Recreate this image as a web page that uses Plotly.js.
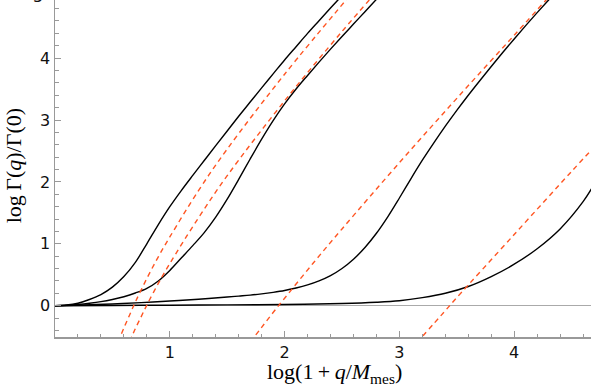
<!DOCTYPE html>
<html>
<head>
<meta charset="utf-8">
<script src="https://cdn.plot.ly/plotly-3.0.1.min.js"></script>
<style>html,body{margin:0;padding:0;background:#fff;}#chart{width:591px;height:389px;}</style>
</head>
<body>
<div id="chart"></div>
<script>
// Black solid curves: log Γ(q)/Γ(0) vs log(1+q/M_mes)
const curveA_x = [0, 0.1, 0.2, 0.3, 0.4, 0.5, 0.6, 0.7, 0.8, 0.9, 1.0, 1.1, 1.2, 1.3, 1.4, 1.5, 1.6, 1.7, 1.8, 1.9, 2.0, 2.1, 2.2, 2.3, 2.4, 2.5, 2.6];
const curveA_y = [0, 0.01, 0.04, 0.1, 0.18, 0.3, 0.47, 0.7, 1.0, 1.31, 1.6, 1.86, 2.105, 2.345, 2.585, 2.823, 3.06, 3.29, 3.52, 3.745, 3.97, 4.185, 4.4, 4.605, 4.81, 5.01, 5.21];
const curveB_x = [0, 0.1, 0.2, 0.3, 0.4, 0.5, 0.6, 0.7, 0.8, 0.9, 1.0, 1.1, 1.2, 1.3, 1.4, 1.5, 1.6, 1.7, 1.8, 1.9, 2.0, 2.1, 2.2, 2.3, 2.4, 2.5, 2.6, 2.7, 2.8, 2.9];
const curveB_y = [0, 0.005, 0.02, 0.04, 0.065, 0.1, 0.145, 0.205, 0.28, 0.4, 0.57, 0.77, 0.97, 1.18, 1.43, 1.72, 2.04, 2.37, 2.69, 2.99, 3.26, 3.5, 3.72, 3.935, 4.145, 4.35, 4.55, 4.75, 4.95, 5.15];
const curveC_x = [0, 0.25, 0.5, 0.75, 1.0, 1.25, 1.5, 1.6, 1.7, 1.8, 1.9, 2.0, 2.1, 2.2, 2.3, 2.4, 2.5, 2.6, 2.7, 2.8, 2.9, 3.0, 3.1, 3.2, 3.3, 3.4, 3.5, 3.6, 3.7, 3.8, 3.9, 4.0, 4.1, 4.2, 4.3, 4.4];
const curveC_y = [0, 0.012, 0.028, 0.05, 0.075, 0.105, 0.14, 0.155, 0.17, 0.19, 0.215, 0.245, 0.285, 0.335, 0.4, 0.485, 0.6, 0.75, 0.94, 1.17, 1.44, 1.74, 2.05, 2.35, 2.63, 2.9, 3.155, 3.4, 3.635, 3.865, 4.09, 4.31, 4.525, 4.735, 4.94, 5.14];
const curveD_x = [0, 0.5, 1.0, 1.5, 2.0, 2.5, 2.8, 3.0, 3.2, 3.4, 3.6, 3.8, 4.0, 4.2, 4.4, 4.6, 4.7];
const curveD_y = [0, 0.004, 0.008, 0.013, 0.02, 0.035, 0.055, 0.08, 0.13, 0.2, 0.31, 0.47, 0.67, 0.92, 1.24, 1.68, 1.97];

// Red dashed asymptotes
const asym1_x = [0.55, 0.6, 0.65, 0.7, 0.8, 0.9, 1.0, 1.25, 1.5, 2.0, 2.6];
const asym1_y = [-0.59, -0.36, -0.15, 0.06, 0.44, 0.79, 1.11, 1.86, 2.53, 3.74, 5.08];
const asym2_x = [0.65, 0.7, 0.75, 0.8, 0.9, 1.0, 1.25, 1.5, 2.0, 2.5, 2.8];
const asym2_y = [-0.58, -0.37, -0.18, 0.01, 0.36, 0.68, 1.42, 2.10, 3.31, 4.43, 5.07];
const asym3_x = [1.7, 1.8, 1.9, 2.0, 2.25, 2.5, 3.0, 3.5, 4.0, 4.4];
const asym3_y = [-0.59, -0.35, -0.11, 0.12, 0.69, 1.24, 2.31, 3.35, 4.37, 5.19];
const asym4_x = [3.15, 3.3, 3.4, 3.5, 4.0, 4.5, 4.7];
const asym4_y = [-0.6, -0.29, -0.08, 0.13, 1.15, 2.17, 2.57];

const xTicks = [1, 2, 3, 4];
const yTicks = [0, 1, 2, 3, 4];

const black = {color: '#000', width: 1.4, shape: 'spline', smoothing: 1};
const red = {color: '#ff5522', width: 1.4, dash: '5px,4px', shape: 'spline', smoothing: 1};

const traces = [
  {x: curveA_x, y: curveA_y, mode: 'lines', line: black},
  {x: curveB_x, y: curveB_y, mode: 'lines', line: black},
  {x: curveC_x, y: curveC_y, mode: 'lines', line: black},
  {x: curveD_x, y: curveD_y, mode: 'lines', line: black},
  {x: asym1_x, y: asym1_y, mode: 'lines', line: red},
  {x: asym2_x, y: asym2_y, mode: 'lines', line: red},
  {x: asym3_x, y: asym3_y, mode: 'lines', line: red},
  {x: asym4_x, y: asym4_y, mode: 'lines', line: red}
];

const tickFont = {family: 'DejaVu Sans', size: 16, color: '#111'};
const titleFont = {family: 'Liberation Serif', size: 22, color: '#000'};
const layout = {
  width: 591, height: 389,
  margin: {l: 55, r: 0, t: 0, b: 52},
  showlegend: false,
  paper_bgcolor: '#fff', plot_bgcolor: '#fff',
  xaxis: {
    range: [0, 4.669], tickvals: xTicks, ticktext: xTicks.map(String),
    ticks: 'inside', ticklen: 6, tickwidth: 1, tickcolor: '#999',
    minor: {dtick: 0.2, tick0: 0, ticks: 'inside', ticklen: 3.5, tickcolor: '#999', showgrid: false},
    showline: true, linecolor: '#999', linewidth: 1.5,
    showgrid: false, zeroline: false, tickfont: tickFont
  },
  yaxis: {
    range: [-0.506, 4.939], tickvals: yTicks, ticktext: yTicks.map(String),
    ticks: 'inside', ticklen: 6, tickwidth: 1, tickcolor: '#999',
    minor: {dtick: 0.2, tick0: 0, ticks: 'inside', ticklen: 3.5, tickcolor: '#999', showgrid: false},
    showline: true, linecolor: '#999', linewidth: 1.5,
    showgrid: false, zeroline: true, zerolinecolor: '#aaa', zerolinewidth: 1.5,
    tickfont: tickFont
  },
  annotations: [
    {text: '5', xref: 'paper', yref: 'paper', x: -0.0187, y: 1.0113, xanchor: 'right', yanchor: 'middle',
     showarrow: false, font: tickFont},
    {text: 'log(1\u2009+\u2009<i>q</i>/<i>M</i><sub>mes</sub>)', xref: 'paper', yref: 'paper', x: 0.522, y: -0.151,
     xanchor: 'center', yanchor: 'bottom', borderpad: 0, height: 26, valign: 'bottom', showarrow: false, font: titleFont},
    {text: 'log\u2009Γ(<i>q</i>)/Γ(0)', xref: 'paper', yref: 'paper', x: -0.078, y: 0.507, textangle: -90,
     xanchor: 'center', yanchor: 'middle', showarrow: false, font: {family: 'Liberation Serif', size: 22, color: '#000'}}
  ]
};

Plotly.newPlot('chart', traces, layout, {displayModeBar: false, staticPlot: true});
</script>
</body>
</html>
